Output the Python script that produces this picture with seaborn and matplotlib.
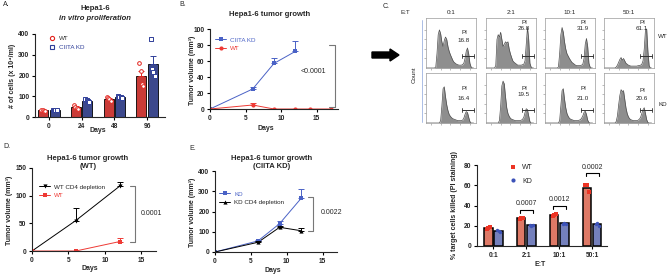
import numpy as np
import pandas as pd
import matplotlib
matplotlib.use("Agg")
import matplotlib.pyplot as plt
import seaborn as sns
from matplotlib.transforms import Affine2D
from matplotlib.lines import Line2D

# ---------------- data ----------------
a_days = ["0", "24", "48", "96"]
a_wt = [[35, 33, 30, 28], [57, 50, 45, 38], [96, 92, 88, 78], [258, 222, 160, 150]]
a_kd = [[35, 34, 33, 32], [88, 82, 75, 70], [100, 98, 95, 90], [375, 230, 215, 200]]

b_kd_days = [0, 6, 9, 12]
b_kd_vol = [0, 25, 57, 72]
b_kd_err = [0, 3, 7, 13]
b_wt_days = [0, 6, 9, 12, 14, 17]
b_wt_vol = [0, 5, 0, 0, 0, 0]
b_wt_err = [0, 2.5, 0, 0, 0, 0]

d_cd4_days = [0, 6, 12]
d_cd4_vol = [0, 55, 117]
d_cd4_err = [0, 22, 7]
d_wt_days = [0, 6, 12]
d_wt_vol = [0, 0, 17]
d_wt_err = [0, 0, 7]

e_kd_days = [0, 6, 9, 12]
e_kd_vol = [0, 55, 140, 265]
e_kd_err = [0, 5, 15, 45]
e_cd4_days = [0, 6, 9, 12]
e_cd4_vol = [0, 48, 122, 105]
e_cd4_err = [0, 5, 5, 15]

et_ratios = ["0:1", "2:1", "10:1", "50:1"]
f_wt = [[17, 18, 18.5], [27, 28, 28], [30, 31, 32], [60, 60, 53]]
f_kd = [[16, 15, 14], [21, 20, 21], [22, 23, 22], [22, 23, 20]]
f_pvals = ["", "0.0007", "0.0012", "0.0002"]

flow_pi_wt = ["16.8", "26.8", "31.9", "61.1"]
flow_pi_kd = ["16.4", "19.5", "21.0", "20.6"]
flow_wt_01 = [0,0,0,0,0,0,0,0,0.02,0.3,0.7,0.8,0.72,0.55,0.45,0.58,0.65,0.6,0.45,0.35,0.28,0.22,0.16,0.12,0.1,0.08,0.07,0.06,0.06,0.06,0.07,0.1,0.2,0.35,0.42,0.3,0.1,0.02,0,0]
flow_wt_21 = [0,0,0,0,0,0,0,0,0.05,0.6,0.7,0.65,0.75,0.6,0.45,0.5,0.55,0.52,0.55,0.4,0.3,0.22,0.15,0.12,0.1,0.08,0.06,0.06,0.06,0.06,0.07,0.08,0.15,0.5,0.85,0.6,0.1,0.02,0,0]
flow_wt_101 = [0,0,0,0,0,0,0,0,0,0,0,0.02,0.3,0.7,0.85,0.75,0.55,0.4,0.3,0.25,0.2,0.16,0.12,0.1,0.08,0.06,0.05,0.05,0.05,0.05,0.06,0.08,0.2,0.5,0.62,0.45,0.1,0.02,0,0]
flow_wt_501 = [0,0,0,0,0,0,0,0,0,0,0.02,0.06,0.12,0.18,0.22,0.16,0.2,0.15,0.1,0.08,0.06,0.05,0.04,0.04,0.04,0.04,0.04,0.04,0.05,0.05,0.06,0.08,0.15,0.4,0.8,0.82,0.35,0.05,0,0]
flow_kd_01 = [0,0,0,0,0,0,0,0,0,0,0,0,0.05,0.35,0.72,0.76,0.55,0.38,0.26,0.18,0.14,0.11,0.09,0.08,0.07,0.06,0.05,0.05,0.05,0.05,0.06,0.1,0.18,0.24,0.22,0.12,0.03,0,0,0]
flow_kd_21 = [0,0,0,0,0,0,0,0,0,0,0,0.05,0.35,0.78,0.88,0.82,0.55,0.32,0.2,0.14,0.1,0.08,0.07,0.06,0.05,0.05,0.05,0.05,0.05,0.06,0.08,0.12,0.22,0.3,0.28,0.15,0.03,0,0,0]
flow_kd_101 = [0,0,0,0,0,0,0,0,0,0,0,0,0.05,0.36,0.68,0.72,0.5,0.32,0.2,0.14,0.1,0.08,0.07,0.06,0.05,0.05,0.05,0.05,0.06,0.07,0.1,0.15,0.22,0.25,0.18,0.06,0.01,0,0,0]
flow_kd_501 = [0,0,0,0,0,0,0,0,0,0,0.03,0.15,0.38,0.58,0.7,0.66,0.68,0.5,0.32,0.2,0.13,0.09,0.07,0.06,0.05,0.05,0.05,0.05,0.06,0.08,0.12,0.2,0.28,0.32,0.2,0.07,0.01,0,0,0]

# ---------------- style ----------------
sns.set_theme(style="ticks")
plt.rcParams["font.family"] = ["Liberation Sans", "DejaVu Sans"]
plt.rcParams["axes.linewidth"] = 0.8

W, H = 668, 274
fig = plt.figure(figsize=(6.68, 2.74), dpi=100)
PIX = Affine2D().scale(1 / W, -1 / H).translate(0, 1) + fig.transFigure

TICK = 4.8
LAB = 5.0
TIT = 5.5
LEG = 4.5


def add_ax(l, t, r, b):
    return fig.add_axes([l / W, 1 - b / H, (r - l) / W, (b - t) / H])


def txt(x, y, s, **kw):
    kw.setdefault("ha", "center")
    kw.setdefault("va", "center")
    fig.text(x, y, s, transform=PIX, **kw)


def prism(ax):
    sns.despine(ax=ax)
    ax.tick_params(length=2.5, width=0.8, labelsize=TICK, pad=1.5, color="black")
    for lab in ax.get_xticklabels() + ax.get_yticklabels():
        lab.set_fontweight("bold")
    ax.set_xlabel("")
    ax.set_ylabel("")
    ax.set_facecolor("none")


def up_err(ax, xs, ys, es, color):
    xs = np.asarray(xs, float); ys = np.asarray(ys, float); es = np.asarray(es, float)
    m = es > 0
    if m.any():
        ax.errorbar(xs[m], ys[m], yerr=[np.zeros(m.sum()), es[m]], fmt="none",
                    ecolor=color, elinewidth=0.7, capsize=2, capthick=0.7, zorder=3)


RED_A, BLUE_A = "#E3241E", "#2F3F99"

# ---------------- panel A ----------------
rows = []
for d, wt, kd in zip(a_days, a_wt, a_kd):
    rows += [(d, "WT", v) for v in wt] + [(d, "CIITA KD", v) for v in kd]
dfa = pd.DataFrame(rows, columns=["day", "group", "cells"])
axA = add_ax(35, 34, 165, 117)
sns.barplot(data=dfa, x="day", y="cells", hue="group", hue_order=["WT", "CIITA KD"],
            palette=[RED_A, BLUE_A], errorbar=None, width=0.7, gap=0.12,
            edgecolor="black", linewidth=0.6, ax=axA, legend=False)
jit = [-0.06, -0.02, 0.02, 0.06]
for i, (wt, kd) in enumerate(zip(a_wt, a_kd)):
    for off, vals, c, mk in [(-0.175, wt, RED_A, "o"), (0.175, kd, BLUE_A, "s")]:
        mean = np.mean(vals); se = np.std(vals, ddof=1) / np.sqrt(len(vals))
        up_err(axA, [i + off], [mean], [se], c)
        axA.scatter([i + off + j for j in jit[:len(vals)]], vals, marker=mk, s=7,
                    facecolor="white", edgecolor=c, linewidth=0.7, zorder=4)
axA.set_ylim(0, 400)
axA.set_yticks([0, 100, 200, 300, 400])
axA.set_xlim(-0.43, 3.55)
prism(axA)
axA.legend(handles=[Line2D([], [], ls="none", marker="o", mfc="white", mec=RED_A, ms=3, mew=0.8),
                    Line2D([], [], ls="none", marker="s", mfc="white", mec=BLUE_A, ms=3, mew=0.8)],
           labels=["WT", "CIITA KD"], loc="upper left", bbox_to_anchor=(46, 33),
           bbox_transform=PIX, frameon=False, fontsize=LEG, handlelength=1.0,
           handletextpad=0.6, labelspacing=0.45, borderpad=0, labelcolor=["#333333", BLUE_A])
txt(3, 5, "A.", fontsize=5, ha="left")
txt(95, 9, "Hepa1-6", fontsize=TIT, fontweight="bold")
txt(95, 18, "in vitro proliferation", fontsize=TIT, fontweight="bold", style="italic")
txt(13, 76, "# of cells (x 10⁴/ml)", fontsize=LAB, fontweight="bold", rotation=90)
txt(98, 131, "Days", fontsize=LAB, fontweight="bold")

# ---------------- panel B ----------------
BLUE_L, RED_L = "#4A62C6", "#EE3A35"
dfb = pd.DataFrame({"day": b_kd_days + b_wt_days, "vol": b_kd_vol + b_wt_vol,
                    "group": ["CIITA KD"] * len(b_kd_days) + ["WT"] * len(b_wt_days)})
axB = add_ax(210, 29, 338, 109)
sns.lineplot(data=dfb, x="day", y="vol", hue="group", style="group",
             markers={"CIITA KD": "s", "WT": "o"}, dashes=False,
             palette={"CIITA KD": BLUE_L, "WT": RED_L}, markersize=3, linewidth=0.7,
             markeredgewidth=0, ax=axB, legend=False)
up_err(axB, b_kd_days, b_kd_vol, b_kd_err, BLUE_L)
up_err(axB, b_wt_days, b_wt_vol, b_wt_err, RED_L)
axB.set_ylim(0, 100); axB.set_yticks([0, 20, 40, 60, 80, 100])
axB.set_xlim(0, 18); axB.set_xticks([0, 5, 10, 15])
prism(axB)
axB.plot([16.8, 17.6, 17.6, 16.8], [80, 80, 3, 3], color="#777777", lw=0.8, clip_on=False)
axB.text(16.3, 47, "<0.0001", fontsize=5, ha="right", va="center")
axB.legend(handles=[Line2D([], [], color=BLUE_L, marker="s", ms=3, lw=0.7, mew=0),
                    Line2D([], [], color=RED_L, marker="o", ms=3, lw=0.7, mew=0)],
           labels=["CIITA KD", "WT"], loc="upper left", bbox_to_anchor=(212, 34),
           bbox_transform=PIX, frameon=False, fontsize=LEG, handlelength=1.8,
           handletextpad=0.6, labelspacing=0.5, borderpad=0, labelcolor=[BLUE_L, RED_L])
txt(179, 5, "B.", fontsize=5, ha="left")
txt(270, 15, "Hepa1-6 tumor growth", fontsize=TIT, fontweight="bold")
txt(192, 70, "Tumor volume (mm³)", fontsize=LAB, fontweight="bold", rotation=90)
txt(266, 129, "Days", fontsize=LAB, fontweight="bold")

# ---------------- panel C (flow) ----------------
flow_wt = [flow_wt_01, flow_wt_21, flow_wt_101, flow_wt_501]
flow_kd = [flow_kd_01, flow_kd_21, flow_kd_101, flow_kd_501]
col_left = [426, 486, 545, 604]
BW, BH = 50, 50
row_top = [18, 73]
wt_pi_y = [(0.70, 0.56), (0.91, 0.79), (0.91, 0.79), (0.91, 0.79)]
kd_pi_y = [(0.68, 0.48), (0.70, 0.58), (0.68, 0.48), (0.66, 0.50)]
for r, (hists, pis, piy, gate_y) in enumerate([(flow_wt, flow_pi_wt, wt_pi_y, 0.26),
                                               (flow_kd, flow_pi_kd, kd_pi_y, 0.27)]):
    for c in range(4):
        ax = add_ax(col_left[c], row_top[r], col_left[c] + BW, row_top[r] + BH)
        h = hists[c]
        xs = np.arange(len(h))
        ax.fill_between(xs, h, color="#8E8E8E", lw=0)
        ax.plot(xs, h, color="#4D4D4D", lw=0.5)
        ax.set_xlim(0, len(h) + 1); ax.set_ylim(0, 1.05)
        ax.set_xticks(np.linspace(4, 36, 5)); ax.set_yticks(np.linspace(0.2, 0.8, 4))
        ax.set_xticklabels([]); ax.set_yticklabels([])
        ax.tick_params(length=1.5, width=0.4, color="#888888", direction="out", pad=0)
        for s in ax.spines.values():
            s.set_linewidth(0.5); s.set_color("#9A9A9A")
        ax.plot([29.5, 39.5], [gate_y, gate_y], color="#333333", lw=0.7)
        ax.plot([29.5, 29.5], [gate_y - 0.04, gate_y + 0.04], color="#333333", lw=0.6)
        ax.plot([39.5, 39.5], [gate_y - 0.04, gate_y + 0.04], color="#333333", lw=0.6)
        ax.text(0.76, piy[c][0], "PI", transform=ax.transAxes, fontsize=4.5, ha="center", va="center")
        ax.text(0.76, piy[c][1], pis[c], transform=ax.transAxes, fontsize=4.5, ha="center", va="center")
        if r == 0:
            txt(col_left[c] + BW / 2, 13, et_ratios[c], fontsize=4.5)
txt(383, 7, "C.", fontsize=5, ha="left")
txt(405, 13, "E:T", fontsize=4.5)
txt(663, 37, "WT", fontsize=4.5, ha="center")
txt(663, 104, "KD", fontsize=4.5, ha="center")
txt(414, 75, "Count", fontsize=4.5, rotation=90)
fig.add_artist(Line2D([422 / W, 422 / W], [1 - 20 / H, 1 - 122 / H], color="#9DB3E0", lw=0.6))
fig.add_artist(matplotlib.patches.FancyArrow(372 / W, 1 - 55 / H, 18 / W, 0, width=6 / H,
                                             head_width=12 / H, head_length=9 / W,
                                             length_includes_head=False, color="black",
                                             transform=fig.transFigure))

# ---------------- panel D ----------------
dfd = pd.DataFrame({"day": d_cd4_days + d_wt_days, "vol": d_cd4_vol + d_wt_vol,
                    "group": ["WT CD4 depletion"] * len(d_cd4_days) + ["WT"] * len(d_wt_days)})
axD = add_ax(32, 168, 156, 251)
sns.lineplot(data=dfd, x="day", y="vol", hue="group", style="group",
             markers={"WT CD4 depletion": "v", "WT": "s"}, dashes=False,
             palette={"WT CD4 depletion": "black", "WT": RED_L}, markersize=3, linewidth=0.7,
             markeredgewidth=0, ax=axD, legend=False)
up_err(axD, d_cd4_days, d_cd4_vol, d_cd4_err, "black")
up_err(axD, d_wt_days, d_wt_vol, d_wt_err, RED_L)
axD.set_ylim(0, 150); axD.set_yticks([0, 50, 100, 150])
axD.set_xlim(0, 17); axD.set_xticks([0, 5, 10, 15])
prism(axD)
axD.plot([13.4, 14.1, 14.1, 13.4], [117, 117, 17, 17], color="#777777", lw=0.8, clip_on=False)
axD.text(14.9, 67, "0.0001", fontsize=5, ha="left", va="center")
axD.legend(handles=[Line2D([], [], color="black", marker="v", ms=3, lw=0.7, mew=0),
                    Line2D([], [], color=RED_L, marker="s", ms=3, lw=0.7, mew=0)],
           labels=["WT CD4 depletion", "WT"], loc="upper left", bbox_to_anchor=(36, 181),
           bbox_transform=PIX, frameon=False, fontsize=LEG, handlelength=1.8,
           handletextpad=0.6, labelspacing=0.5, borderpad=0, labelcolor=["#222222", RED_L])
txt(3, 147, "D.", fontsize=5, ha="left")
txt(88, 158, "Hepa1-6 tumor growth", fontsize=TIT, fontweight="bold")
txt(88, 166, "(WT)", fontsize=TIT, fontweight="bold")
txt(10, 210, "Tumor volume (mm³)", fontsize=LAB, fontweight="bold", rotation=90)
txt(90, 269, "Days", fontsize=LAB, fontweight="bold")

# ---------------- panel E ----------------
dfe = pd.DataFrame({"day": e_kd_days + e_cd4_days, "vol": e_kd_vol + e_cd4_vol,
                    "group": ["KD"] * len(e_kd_days) + ["KD CD4 depletion"] * len(e_cd4_days)})
axE = add_ax(215, 171, 337, 252)
sns.lineplot(data=dfe, x="day", y="vol", hue="group", style="group",
             markers={"KD": "s", "KD CD4 depletion": "^"}, dashes=False,
             palette={"KD": BLUE_L, "KD CD4 depletion": "black"}, markersize=3, linewidth=0.7,
             markeredgewidth=0, ax=axE, legend=False)
up_err(axE, e_kd_days, e_kd_vol, e_kd_err, BLUE_L)
up_err(axE, e_cd4_days, e_cd4_vol, e_cd4_err, "black")
axE.set_ylim(0, 400); axE.set_yticks([0, 100, 200, 300, 400])
axE.set_xlim(0, 17); axE.set_xticks([0, 5, 10, 15])
prism(axE)
axE.plot([12.9, 13.6, 13.6, 12.9], [272, 272, 104, 104], color="#777777", lw=0.8, clip_on=False)
axE.text(14.8, 193, "0.0022", fontsize=5, ha="left", va="center")
axE.legend(handles=[Line2D([], [], color=BLUE_L, marker="s", ms=3, lw=0.7, mew=0),
                    Line2D([], [], color="black", marker="^", ms=3, lw=0.7, mew=0)],
           labels=["KD", "KD CD4 depletion"], loc="upper left", bbox_to_anchor=(216, 188),
           bbox_transform=PIX, frameon=False, fontsize=LEG, handlelength=1.8,
           handletextpad=0.6, labelspacing=0.5, borderpad=0, labelcolor=[BLUE_L, "#222222"])
txt(189, 149, "E.", fontsize=5, ha="left")
txt(272, 158, "Hepa1-6 tumor growth", fontsize=TIT, fontweight="bold")
txt(272, 166, "(CIITA KD)", fontsize=TIT, fontweight="bold")
txt(192, 212, "Tumor volume (mm³)", fontsize=LAB, fontweight="bold", rotation=90)
txt(273, 270, "Days", fontsize=LAB, fontweight="bold")

# ---------------- panel F ----------------
RED_F, BLUE_F = "#F26B52", "#6878C8"
RED_P, BLUE_P = "#EC3424", "#3C52B8"
rows = []
for et, wt, kd in zip(et_ratios, f_wt, f_kd):
    rows += [(et, "WT", v) for v in wt] + [(et, "KD", v) for v in kd]
dff = pd.DataFrame(rows, columns=["et", "group", "pct"])
axF = add_ax(477, 165, 607, 246)
sns.barplot(data=dff, x="et", y="pct", hue="group", hue_order=["WT", "KD"],
            palette=[RED_F, BLUE_F], errorbar=None, width=0.62, gap=0.18,
            edgecolor="black", linewidth=1.1, ax=axF, legend=False)
jf = [-0.05, 0.0, 0.05]
for i, (wt, kd) in enumerate(zip(f_wt, f_kd)):
    axF.scatter([i - 0.155 + j for j in jf], wt, marker="s", s=6, color=RED_P, lw=0, zorder=4)
    axF.scatter([i + 0.155 + j for j in jf], kd, marker="o", s=6, color=BLUE_P, lw=0, zorder=4)
    if f_pvals[i]:
        yb = max(max(wt), max(kd)) + (8 if i < 3 else 12)
        axF.plot([i - 0.2, i - 0.2, i + 0.2, i + 0.2], [yb - 3, yb, yb, yb - 3], color="black", lw=0.8)
        axF.text(i, yb + 6, f_pvals[i], fontsize=5, ha="center", va="center")
axF.set_ylim(0, 80); axF.set_yticks([0, 20, 40, 60, 80])
axF.set_xlim(-0.5, 3.45)
prism(axF)
axF.legend(handles=[Line2D([], [], ls="none", marker="s", color=RED_P, ms=3, mew=0),
                    Line2D([], [], ls="none", marker="o", color=BLUE_P, ms=3, mew=0)],
           labels=["WT", "KD"], loc="upper left", bbox_to_anchor=(506, 161),
           bbox_transform=PIX, frameon=False, fontsize=LEG + 0.5, handlelength=1.0,
           handletextpad=0.8, labelspacing=0.9, borderpad=0)
txt(455, 205, "% target cells killed (PI staining)", fontsize=LAB, fontweight="bold", rotation=90)
txt(540, 265, "E:T", fontsize=LAB, fontweight="bold")

fig.savefig("out.png", dpi=100, facecolor="white")
